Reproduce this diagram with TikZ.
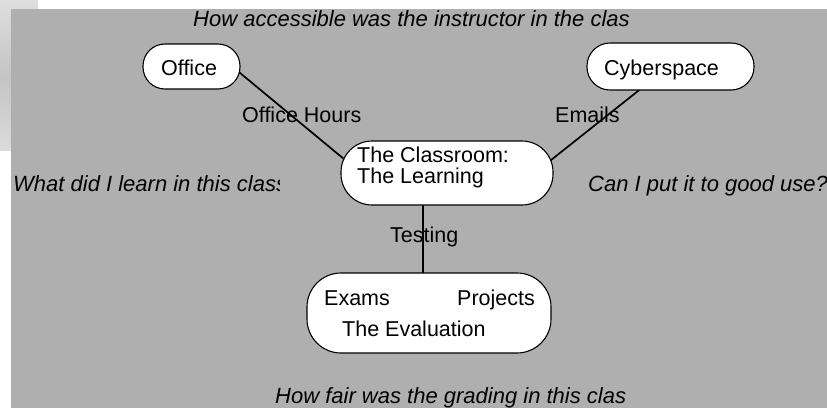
\documentclass[tikz,border=0pt]{standalone}
\usepackage{fontspec}
\setmainfont{Liberation Sans}
\usetikzlibrary{backgrounds}

\definecolor{panelgray}{RGB}{175,175,175}
\definecolor{edgelight}{RGB}{222,222,222}
\definecolor{edgemid}{RGB}{196,196,196}

\begin{document}
\begin{tikzpicture}[x=1pt, y=-1pt,
  font=\fontsize{21.5}{25}\selectfont,
  bubble/.style={draw=black, line width=1.1pt, fill=white, inner sep=0pt,
                 rounded corners=#1},
  link/.style={draw=black, line width=1.7pt, shorten <=-4pt, shorten >=-4pt},
  txt/.style={anchor=base west, inner sep=0pt},
  question/.style={txt, font=\fontsize{22}{26}\selectfont\itshape}]

\useasboundingbox (0,0) rectangle (827,410);

% bubbles
\node[bubble=22pt, minimum width=97pt,  minimum height=45pt] (office)     at (191.5,66.5) {};
\node[bubble=23pt, minimum width=167pt, minimum height=47pt] (cyber)      at (670.5,66.5) {};
\node[bubble=31pt, minimum width=212pt, minimum height=64pt] (classroom)  at (447,173)    {};
\node[bubble=34pt, minimum width=244pt, minimum height=80pt] (evaluation) at (429,313)    {};

% bubble texts
\node[txt] (officetxt)  at (161,75)  {Office};
\node[txt] (cybertxt)   at (604,75)  {Cyberspace};
\node[txt] (classtxtA)  at (357,162) {The Classroom:};
\node[txt] (classtxtB)  at (357,183) {The Learning};
\node[txt] (examstxt)   at (324,305) {Exams};
\node[txt] (projtxt)    at (457,305) {Projects};
\node[txt] (evaltxt)    at (342,336) {The Evaluation};

% connector labels
\node[txt] (hourslbl)   at (242,122) {Office Hours};
\node[txt] (emailslbl)  at (555,122) {Emails};
\node[txt] (testlbl)    at (390,242) {Testing};

% questions
\node[question] (qtop)    at (193,26)  {How accessible was the instructor in the clas};
\begin{scope}
  \clip (11,160) rectangle (279,205);
  \node[question] (qleft) at (13,191) {What did I learn in this class};
\end{scope}
\node[question] (qright)  at (588,191) {Can I put it to good use?};
\node[question] (qbottom) at (275,403) {How fair was the grading in this clas};

\begin{scope}[on background layer]
  % panel and the lighter strip at its upper left
  \shade[top color=edgelight, bottom color=edgemid] (0,0) rectangle (38,78);
  \shade[top color=edgemid, bottom color=edgelight!90!edgemid] (0,78) rectangle (11,150);
  \fill[panelgray] (11,9) rectangle (827,408);
  % connectors
  \draw[link] (office.-8.6) -- (classroom.171.3);
  \draw[link] (cyber.217) -- (classroom.8.4);
  \draw[link] ([xshift=-6pt]evaluation.north) -- ([xshift=-6pt]evaluation.north |- classroom.south);
\end{scope}
\end{tikzpicture}
\end{document}
